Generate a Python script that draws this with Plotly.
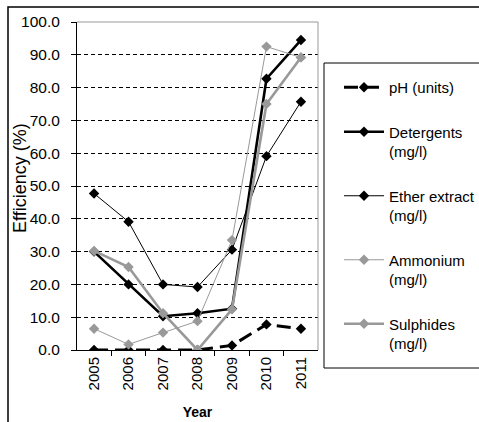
import plotly.graph_objects as go

years = ["2005", "2006", "2007", "2008", "2009", "2010", "2011"]
ph = [0.0, 0.0, 0.0, 0.0, 1.4, 7.8, 6.5]
detergents = [30.0, 20.0, 10.3, 11.2, 12.6, 82.7, 94.5]
ether = [47.7, 39.1, 20.0, 19.2, 30.6, 59.1, 75.7]
ammonium = [6.5, 1.7, 5.3, 8.8, 33.5, 92.5, 89.2]
sulphides = [30.2, 25.3, 11.2, 0.0, 12.4, 75.0, 89.2]

names = ["pH (units)", "Detergents<br>(mg/l)", "Ether extract<br>(mg/l)",
         "Ammonium<br>(mg/l)", "Sulphides<br>(mg/l)"]
series = [ph, detergents, ether, ammonium, sulphides]
colors = ["#000000", "#000000", "#000000", "#999999", "#999999"]
widths = [3, 2.6, 1, 1, 2.6]
dashes = ["14px,7px", "solid", "solid", "solid", "solid"]

FONT = "Liberation Sans, Arial, sans-serif"

fig = go.Figure()
for i, (n, s, c, w, d) in enumerate(zip(names, series, colors, widths, dashes)):
    fig.add_trace(go.Scatter(
        x=years, y=s, name=n, mode="lines+markers",
        line=dict(color=c, width=w, dash=d),
        marker=dict(symbol="diamond", size=8, color=c),
        legendgroup=f"g{i}",
    ))

# plot area px: x 77..318, y 22..350 in a 479x422 figure
W, H = 479, 422
L, R, T, B = 77, 161, 22, 72
pw, ph_ = W - L - R, H - T - B

def px(x):
    return (x - L) / pw

def py(y):
    return (H - B - y) / ph_

shapes = [
    dict(type="path", xref="paper", yref="paper", path="M0,1 L1,1 L1,0",
         line=dict(color="#999999", width=1), layer="above"),
    dict(type="rect", xref="paper", yref="paper",
         x0=px(324), x1=px(483), y0=py(368), y1=py(63),
         line=dict(color="#000000", width=1), fillcolor="rgba(0,0,0,0)"),
    dict(type="rect", xref="paper", yref="paper",
         x0=px(8), x1=px(486), y0=py(430), y1=py(7),
         line=dict(color="#000000", width=1.5), fillcolor="rgba(0,0,0,0)"),
]

fig.update_layout(
    width=W, height=H,
    margin=dict(l=L, r=R, t=T, b=B, autoexpand=False),
    paper_bgcolor="white", plot_bgcolor="white",
    font=dict(family=FONT, size=15, color="#000000"),
    showlegend=True,
    legend=dict(x=px(339), y=py(71), xanchor="left", yanchor="top",
                bgcolor="rgba(0,0,0,0)", borderwidth=0,
                font=dict(family=FONT, size=15), valign="top",
                tracegroupgap=22, itemwidth=40),
    shapes=shapes,
    annotations=[dict(text="Efficiency (%)", textangle=-90, xref="paper",
                      yref="paper", x=px(20), y=py(178), showarrow=False,
                      xanchor="center", yanchor="middle",
                      font=dict(family=FONT, size=18))],
    xaxis=dict(
        type="category", tickangle=-90, showline=True, linecolor="#000000",
        linewidth=1, ticks="outside", ticklen=5, tickcolor="#000000",
        tickson="boundaries", showgrid=False, zeroline=False,
        tickfont=dict(size=15), automargin=False,
        title=dict(text="<b>Year</b>", font=dict(size=14), standoff=17),
    ),
    yaxis=dict(
        range=[0, 100], dtick=10, tickformat=".1f", showline=True,
        linecolor="#000000", linewidth=1, ticks="outside", ticklen=5,
        tickcolor="#000000", showgrid=True, gridcolor="#000000",
        griddash="4px,3px", gridwidth=1, zeroline=False,
        tickfont=dict(size=15.5), ticklabelstandoff=8, automargin=False,
    ),
)

fig.write_html("out.html", config={"displayModeBar": False},
               post_script="document.body.style.margin='0';"
                           "document.body.style.padding='0';")
